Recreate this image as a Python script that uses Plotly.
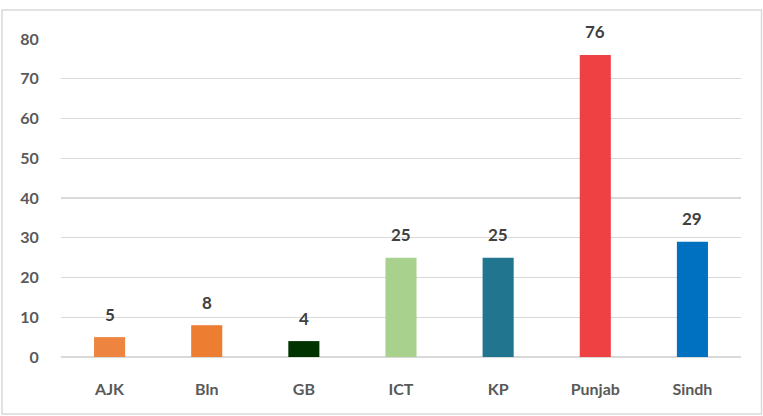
import plotly.graph_objects as go

categories = ["AJK", "Bln", "GB", "ICT", "KP", "Punjab", "Sindh"]
values = [5, 8, 4, 25, 25, 76, 29]
colors = ["#ED843F", "#ED7D31", "#003300", "#A9D18E", "#22758F", "#EF4044", "#0070C0"]
y_ticks = [0, 10, 20, 30, 40, 50, 60, 70, 80]

FONT = "Lato"

fig = go.Figure()
fig.add_trace(go.Bar(
    x=categories, y=values, marker=dict(color=colors, line=dict(width=0)),
    width=0.32, hoverinfo="skip"
))

for c, v in zip(categories, values):
    fig.add_annotation(x=c, y=v, text=str(v), showarrow=False,
                       yshift=23, font=dict(family=FONT, size=17, color="#404040", weight="bold"))

W, H = 763, 416
L, R, T, B = 61, 22, 39, 59
pw, ph = W - L - R, H - T - B

fig.add_shape(type="rect", xref="paper", yref="paper",
              x0=(2 - L) / pw, x1=(761.5 - L) / pw,
              y0=(H - B - 414) / ph, y1=(H - B - 10) / ph,
              line=dict(color="#D9D9D9", width=1.5), fillcolor="rgba(0,0,0,0)", layer="below")

tf = dict(family=FONT, size=16, color="#595959", weight="bold")

fig.update_layout(
    width=W, height=H,
    margin=dict(l=L, r=R, t=T, b=B),
    paper_bgcolor="white", plot_bgcolor="white",
    showlegend=False,
    font=dict(family=FONT),
    xaxis=dict(showgrid=False, showline=False, zeroline=False,
               tickfont=tf,
               ticks="outside", ticklen=18, tickcolor="rgba(0,0,0,0)"),
    yaxis=dict(range=[0, 80], tickvals=y_ticks, showgrid=True, gridcolor="#D9D9D9", gridwidth=1.2,
               zeroline=True, zerolinecolor="#D9D9D9", zerolinewidth=1.5, showline=False,
               tickfont=tf,
               ticks="outside", ticklen=18, tickcolor="rgba(0,0,0,0)"),
)

fig.write_html("out.html", config={"displayModeBar": False, "staticPlot": True},
               post_script="document.body.style.margin='0';document.body.style.overflow='hidden';")
